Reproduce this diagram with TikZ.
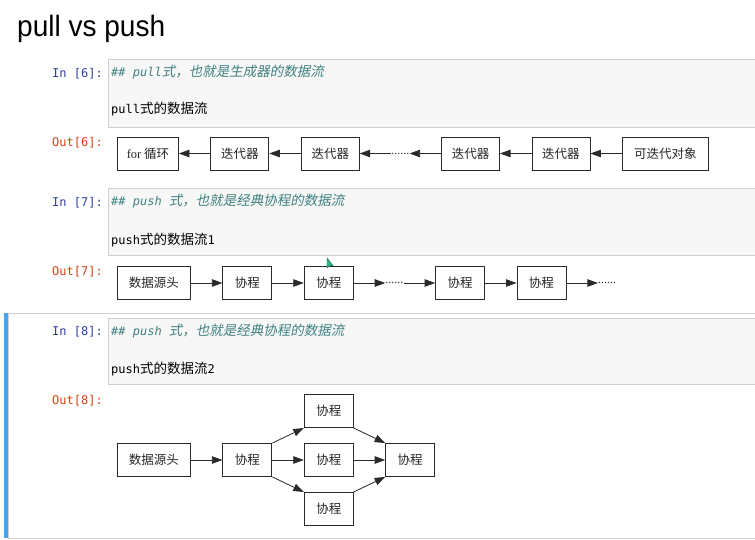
\documentclass[tikz,border=0pt]{standalone}
\usepackage{fontspec}
\setmainfont{Liberation Serif}
\setmonofont{DejaVu Sans Mono}
\newfontfamily\cjk{Noto Sans CJK SC}
\newfontfamily\cjkit[FakeSlant=0.2]{Noto Sans CJK SC}
\newfontfamily\titlefont[FakeStretch=0.95]{Liberation Sans}
\usetikzlibrary{positioning,arrows.meta}

\definecolor{inblue}{HTML}{303F9F}
\definecolor{outred}{HTML}{D84315}
\definecolor{cmtteal}{HTML}{408080}
\definecolor{cellbg}{HTML}{F7F7F7}
\definecolor{cellline}{HTML}{CFCFCF}
\definecolor{selblue}{HTML}{42A5F5}
\definecolor{boxline}{HTML}{2A2A2A}
\definecolor{cursorgreen}{HTML}{2DB38A}

\newcommand{\zh}[1]{{\cjk\fontsize{13.5}{15}\selectfont #1}}
\newcommand{\zhit}[1]{{\cjkit\fontsize{13.5}{15}\selectfont #1}}

\tikzset{
  prompt/.style={anchor=east, inner sep=0pt, font=\ttfamily\fontsize{12}{14}\selectfont},
  codeline/.style={anchor=west, inner sep=0pt, text height=9pt, text depth=3pt,
    font=\ttfamily\fontsize{12}{14}\selectfont},
  blk/.style={draw=boxline, line width=0.9pt, inner sep=0pt, minimum height=33pt,
    text=black!85, font=\cjk\fontsize{12.5}{14}\selectfont},
  dots/.style={inner sep=0pt, text=black!85, font=\fontsize{12}{12}\selectfont},
  flow/.style={-{Triangle[length=10.5pt,width=7.5pt]},
    every edge/.append style={draw=boxline, line width=0.8pt}},
}

\begin{document}
\begin{tikzpicture}[x=1pt, y=-1pt, node distance=31.5pt]
  \useasboundingbox (0,0) rectangle (755,540);
  \fill[white] (0,0) rectangle (755,540);

  % title
  \node (title) [anchor=base west, inner sep=0pt,
    font=\titlefont\fontsize{29.5}{34}\selectfont] at (17,37) {pull vs push};

  % cells
  \draw[gray!35, line width=1pt] (8,313) rectangle (762,538);
  \fill[selblue] (4,313) rectangle (8,538);
  \foreach \top/\bot in {59/127, 188/255, 318/384}
    \draw[cellline, fill=cellbg, line width=0.8pt] (108,\top) rectangle (762,\bot);

  % prompts
  \node (in6) [prompt, text=inblue] at (103,74) {In [6]:};
  \node (out6) [prompt, text=outred] at (103,143) {Out[6]:};
  \node (in7) [prompt, text=inblue] at (103,203) {In [7]:};
  \node (out7) [prompt, text=outred] at (103,272) {Out[7]:};
  \node (in8) [prompt, text=inblue] at (103,332) {In [8]:};
  \node (out8) [prompt, text=outred] at (103,401) {Out[8]:};

  % cell sources
  \node (cmt6) [codeline, text=cmtteal] at (111,74) {\itshape\#\# pull\zhit{式，也就是生成器的数据流}};
  \node (src6) [codeline] at (111,111) {pull\zh{式的数据流}};
  \node (cmt7) [codeline, text=cmtteal] at (111,203) {\itshape\#\# push \zhit{式，也就是经典协程的数据流}};
  \node (src7) [codeline] at (111,241) {push\zh{式的数据流}1};
  \node (cmt8) [codeline, text=cmtteal] at (111,332) {\itshape\#\# push \zhit{式，也就是经典协程的数据流}};
  \node (src8) [codeline] at (111,370) {push\zh{式的数据流}2};

  % pull
  \node (loop) [blk, minimum width=61pt, anchor=west] at (117,153.5) {{\rmfamily for} 循环};
  \node (it1) [blk, minimum width=58pt, right=of loop] {迭代器};
  \node (it2) [blk, minimum width=58pt, right=of it1] {迭代器};
  \node (gap6) [dots, right=of it2] {......};
  \node (it3) [blk, minimum width=58pt, right=of gap6] {迭代器};
  \node (it4) [blk, minimum width=58pt, right=of it3] {迭代器};
  \node (iterable) [blk, minimum width=86pt, right=of it4] {可迭代对象};

  \path[flow]
    (it1) edge (loop)
    (it2) edge (it1)
    (gap6) edge (it2)
    (it3) edge (gap6)
    (it4) edge (it3)
    (iterable) edge (it4);

  % push 1
  \node (head7) [blk, minimum width=73pt, anchor=west] at (117,283) {数据源头};
  \node (co1) [blk, minimum width=49pt, right=of head7] {协程};
  \node (co2) [blk, minimum width=49pt, right=of co1] {协程};
  \node (gap7) [dots, right=of co2] {......};
  \node (co3) [blk, minimum width=49pt, right=of gap7] {协程};
  \node (co4) [blk, minimum width=49pt, right=of co3] {协程};
  \node (end7) [dots, right=of co4] {......};

  \path[flow]
    (head7) edge (co1)
    (co1) edge (co2)
    (co2) edge (gap7)
    (gap7) edge (co3)
    (co3) edge (co4)
    (co4) edge (end7);

  % push 2
  \node (head8) [blk, minimum width=73pt, anchor=west] at (117,460) {数据源头};
  \node (fork) [blk, minimum width=49pt, right=of head8] {协程};
  \node (mid) [blk, minimum width=49pt, right=of fork] {协程};
  \node (up) [blk, minimum width=49pt, above=15pt of mid] {协程};
  \node (down) [blk, minimum width=49pt, below=15pt of mid] {协程};
  \node (join) [blk, minimum width=49pt, right=of mid] {协程};

  \path[flow]
    (head8) edge (fork)
    (fork.north east) edge (up.south west)
    (fork) edge (mid)
    (fork.south east) edge (down.north west)
    (up.south east) edge (join.north west)
    (mid) edge (join)
    (down.north east) edge (join.south west);

  % mouse pointer
  \filldraw[fill=cursorgreen, draw=cursorgreen!60!black, line width=0.4pt]
    (327,258) -- (327,268) -- (329.5,266) -- (333,265.5) -- cycle;

\end{tikzpicture}
\end{document}
